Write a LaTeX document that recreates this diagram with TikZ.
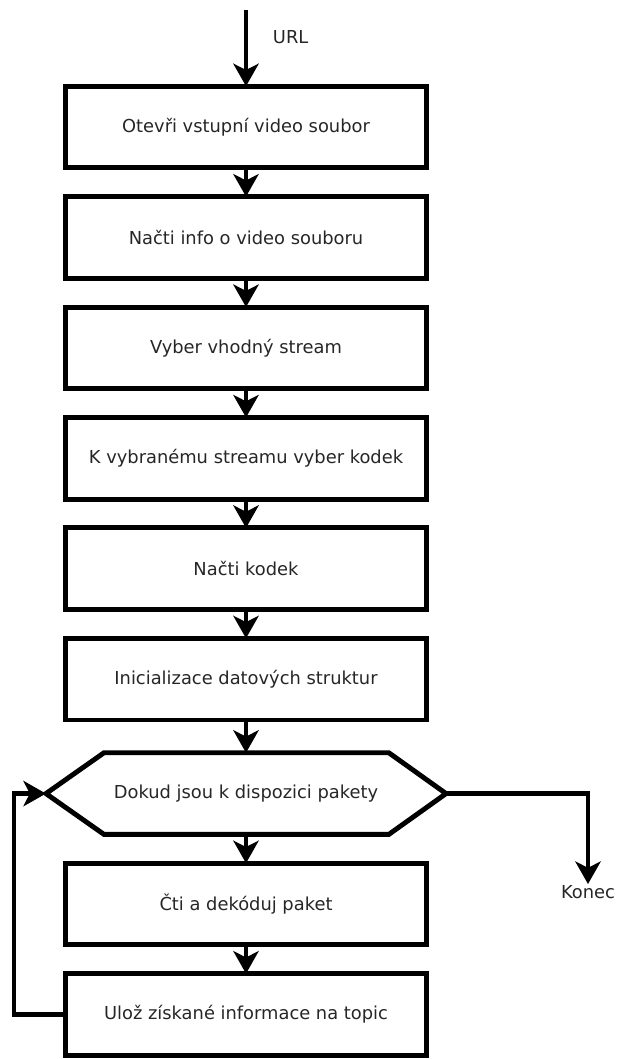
\documentclass[tikz,border=0pt]{standalone}
\usepackage{fontspec}
\setmainfont{DejaVu Sans}
\usetikzlibrary{positioning,arrows.meta}

\begin{document}
\begin{tikzpicture}[
    x=0.025cm, y=-0.025cm,
    node distance=0.72cm,
    every node/.style={font=\fontsize{12.7}{15}\selectfont, text=black!85},
    blok/.style={draw, line width=3.5pt, minimum width=9.04cm, minimum height=2.04cm, outer sep=0pt, inner sep=0pt},
    sipka/.style={line width=3.3pt, -{Stealth[length=16pt,width=18pt,inset=4.5pt]}},
  ]
  \useasboundingbox (0,0) rectangle (617,1059);

  % Define the boxes of the flow
  \node[blok] (otevri) at (246,127) {Otevři vstupní video soubor};
  \node[blok, below=of otevri] (info) {Načti info o video souboru};
  \node[blok, below=of info] (stream) {Vyber vhodný stream};
  \node[blok, below=of stream] (vyber) {K vybranému streamu vyber kodek};
  \node[blok, below=of vyber] (kodek) {Načti kodek};
  \node[blok, below=of kodek] (init) {Inicializace datových struktur};

  % The loop condition (hexagon drawn around the node)
  \node[minimum width=10cm, minimum height=2.04cm, inner sep=0pt, outer sep=0pt, below=0.82cm of init] (dokud) {Dokud jsou k dispozici pakety};
  \draw[line width=3.5pt, line join=miter]
    (dokud.west) -- ([xshift=1.45cm]dokud.north west) -- ([xshift=-1.43cm]dokud.north east)
    -- (dokud.east) -- ([xshift=-1.43cm]dokud.south east) -- ([xshift=1.45cm]dokud.south west) -- cycle;

  \node[blok, below=of dokud] (cti) {Čti a dekóduj paket};
  \node[blok, below=of cti] (uloz) {Ulož získané informace na topic};

  % Input and output
  \coordinate (vstup) at (246,10);
  \node[right=0.55cm of vstup, yshift=-0.68cm] (url) {URL};
  \node[anchor=north, inner sep=1pt] (konec) at (588,884) {Konec};

  % Draw the arrows
  \draw[sipka] (vstup) -- (otevri);
  \draw[sipka] (otevri) -- (info);
  \draw[sipka] (info) -- (stream);
  \draw[sipka] (stream) -- (vyber);
  \draw[sipka] (vyber) -- (kodek);
  \draw[sipka] (kodek) -- (init);
  \draw[sipka] (init) -- (dokud);
  \draw[sipka] (dokud) -- (cti);
  \draw[sipka] (cti) -- (uloz);

  % Back to the condition, and out of the loop
  \draw[sipka] (uloz.west) -- ++(-1.28cm,0) |- (dokud.west);
  \draw[sipka] (dokud.east) -| (konec.north);
\end{tikzpicture}
\end{document}
